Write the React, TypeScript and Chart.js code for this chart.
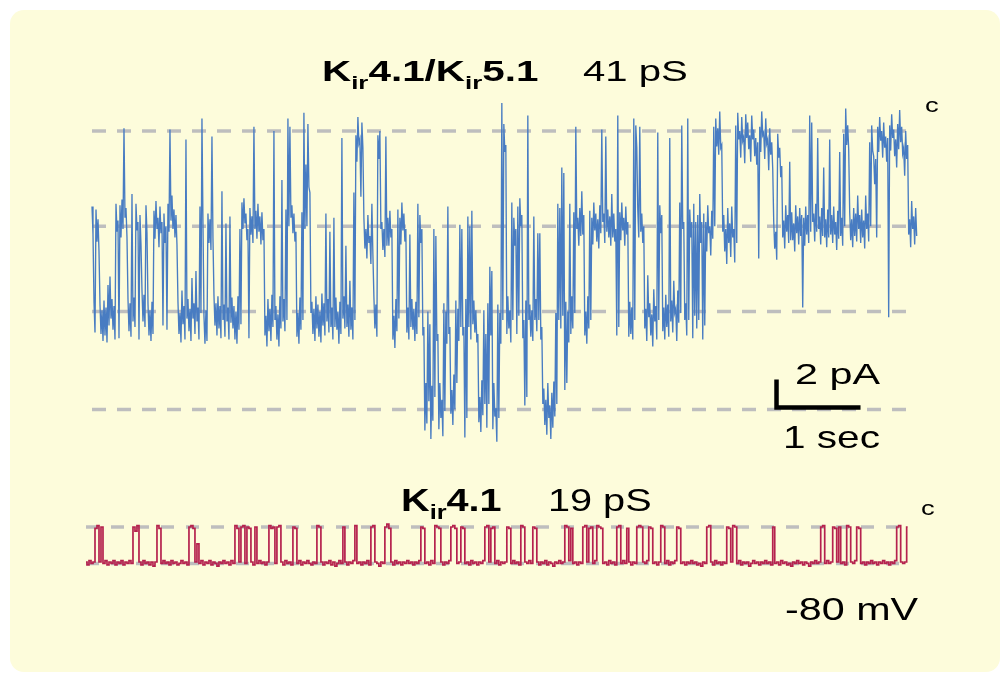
import React, { useEffect, useRef } from "react";
import { Chart, registerables } from "chart.js";

Chart.register(...registerables);

// ---------------- DATA ----------------
// width of one display bin of both recordings (s)
const SAMPLE_INTERVAL_S = 0.0238;

// Kir4.1/Kir5.1 heteromer (41 pS): per-bin maximum and minimum current (pA), 0 = closed, inward negative
const KIR45_MAX_PA = [
  -5.4, -12.2, -5.6, -6.3, -12.4, -12.8, -12.1, -12.6, -11.0, -10.4,
  -12.0, -12.5, -5.2, -6.4, -5.3, -4.9, 0.2, -5.5, -12.0, -12.3,
  -4.5, -11.9, -5.2, -6.5, -6.0, -11.4, -11.7, -5.3, -12.3, -12.8,
  -12.2, -5.7, -5.0, -6.2, -5.4, -6.5, -5.9, -6.8, -5.2, 0.1,
  -4.6, -5.6, -6.0, -12.2, -13.0, -11.4, -12.5, -0.6, -12.0, -12.7,
  -10.5, -12.3, -10.0, -12.6, -5.4, 0.9, -13.2, -12.8, -5.9, -6.3,
  -0.4, -11.7, -12.3, -11.8, -12.5, -4.3, -12.4, -6.6, -12.6, -6.1,
  -11.9, -12.5, -12.9, -11.8, -7.0, -5.1, -4.8, -5.9, -7.0, -5.5,
  -6.1, 0.3, -5.7, -5.2, -6.1, -5.8, -7.0, -13.2, -12.0, -12.7,
  -11.7, 0.0, -12.5, -13.1, -11.8, -3.5, -12.0, -5.6, 0.9, 0.3,
  -5.3, -5.9, -7.2, -13.0, -11.9, -5.8, 1.3, -2.4, 0.5, -4.4,
  -12.2, -12.7, -11.8, -12.4, -12.9, -11.6, -12.3, -5.9, -12.0, -7.2,
  -12.6, -6.2, -11.9, -12.9, -12.2, -0.5, -11.8, -8.2, -12.4, -10.7,
  -12.6, -4.4, -0.3, 1.0, -0.6, 0.6, -6.2, -7.0, -6.0, -7.5,
  -5.2, -11.8, -12.4, -0.3, 0.0, -6.5, -7.0, -0.4, -6.2, -5.7,
  -7.0, -13.2, -12.0, -5.6, -6.2, -5.1, -5.9, -7.0, -12.6, -7.4,
  -12.0, -12.7, -12.2, -5.2, -6.0, -7.0, -14.0, -18.0, -12.9, -13.8,
  -18.2, -7.0, -7.5, -14.5, -18.0, -19.2, -12.3, -12.9, -5.4, -14.0,
  -18.5, -17.4, -12.1, -12.7, -6.7, -7.0, -14.0, -12.0, -6.1, -6.8,
  -5.7, -12.1, -12.8, -14.5, -19.0, -17.8, -12.8, -14.5, -12.3, -9.7,
  -10.0, -18.0, -19.8, -12.4, -13.0, 2.0, 0.5, -1.0, -11.8, -12.8,
  -5.1, -6.2, -7.0, -5.4, -4.8, -6.0, -13.5, -12.1, 1.1, -12.4,
  -12.8, -6.1, -12.0, -7.3, -7.3, -14.0, -18.4, -19.2, -18.0, -19.6,
  -18.7, -17.9, -13.0, -5.2, -5.5, -2.6, -3.0, -12.2, -12.9, -5.2,
  -11.8, -5.8, 0.3, -6.2, -5.5, -4.3, -6.0, -12.9, -11.8, -5.7,
  -6.2, -5.1, -5.9, -6.3, -5.3, 0.1, -5.9, -0.4, -5.6, -6.1,
  -4.5, -5.9, -7.0, 1.1, -5.8, -5.1, -6.2, -5.4, -6.5, -12.2,
  -12.6, 0.9, 0.4, -5.6, 0.3, -5.9, -6.8, -12.7, -10.3, -12.3,
  -13.1, -11.3, -12.5, -0.1, -5.3, -6.0, -12.6, -11.7, -12.4, -0.5,
  -12.1, -10.7, -12.7, -11.4, -5.1, 0.4, -6.5, -12.3, 0.9, -5.6,
  -6.5, -5.2, -6.5, -6.0, -4.5, -6.5, -5.9, -6.5, -5.3, -6.8,
  -5.7, 0.3, 0.9, 0.2, 1.4, -1.0, -6.0, -7.0, -5.5, -6.6,
  -5.4, -7.0, 0.4, 1.3, 0.0, 1.0, -0.4, 1.2, 0.6, -0.3,
  1.1, 0.1, -0.5, -0.8, 0.3, 1.4, -0.1, 0.9, -0.6, 0.2,
  -0.8, -6.5, -7.2, -0.2, -1.2, -2.5, -6.4, -5.3, -6.0, -2.2,
  -5.8, -6.6, -5.3, -6.1, -5.5, -6.0, -6.2, -5.4, -6.0, 1.1,
  0.6, -5.9, -5.2, -0.5, -6.1, -5.5, -2.6, -6.3, -5.6, -0.6,
  -6.0, -5.4, -6.5, -5.7, -1.5, -6.2, -0.2, 1.6, 0.4, -5.8,
  -6.3, -5.5, -5.9, -4.6, -6.0, -5.6, -6.4, -4.6, -5.9, -0.8,
  0.4, -1.8, -2.0, 0.3, 1.0, 0.0, 0.6, -0.4, -0.5, 0.4,
  1.2, 0.1, -0.6, 0.5, 1.5, 0.3, -1.2, 0.0, -1.0, -6.3,
  -5.0, -6.1, -5.5,
];
const KIR45_MIN_PA = [
  -7.4, -14.4, -7.9, -8.6, -14.5, -15.0, -14.6, -15.1, -13.9, -13.4,
  -14.2, -14.9, -7.2, -14.8, -7.6, -7.0, -6.2, -7.6, -14.3, -14.7,
  -13.6, -14.0, -7.1, -14.9, -8.1, -13.6, -14.0, -7.3, -14.6, -15.0,
  -14.5, -7.7, -7.0, -8.3, -7.3, -13.9, -8.0, -14.2, -7.2, -6.4,
  -7.0, -7.6, -8.1, -14.5, -15.1, -13.8, -14.9, -13.4, -14.3, -15.0,
  -13.4, -14.5, -13.6, -14.9, -13.0, -6.5, -15.2, -15.0, -8.0, -8.5,
  -7.6, -13.9, -14.6, -14.1, -14.8, -13.5, -14.7, -13.6, -14.9, -13.7,
  -14.1, -14.9, -15.2, -14.2, -13.8, -7.0, -6.6, -7.8, -14.8, -7.4,
  -8.0, -7.0, -7.7, -7.2, -8.1, -7.8, -14.6, -15.4, -14.3, -15.0,
  -14.0, -13.5, -14.9, -15.4, -14.1, -13.6, -14.3, -13.5, -6.8, -6.2,
  -7.3, -7.9, -14.7, -15.2, -14.2, -13.5, -7.0, -6.8, -4.0, -13.0,
  -14.5, -15.0, -14.1, -14.7, -15.1, -13.9, -14.6, -13.6, -14.4, -14.0,
  -14.9, -14.0, -14.2, -15.2, -14.5, -13.4, -14.1, -14.0, -14.7, -14.2,
  -14.9, -13.5, -2.2, -0.9, -4.7, -1.2, -8.4, -9.1, -8.0, -9.5,
  -8.8, -14.1, -14.7, -2.0, -7.0, -8.5, -9.0, -8.2, -8.2, -7.6,
  -14.9, -15.5, -14.3, -13.4, -8.1, -7.1, -7.9, -14.4, -14.9, -14.0,
  -14.2, -15.0, -14.5, -13.3, -8.0, -14.6, -21.4, -20.9, -19.3, -22.0,
  -20.7, -19.0, -15.0, -21.3, -20.5, -21.8, -20.0, -15.2, -14.5, -20.2,
  -21.0, -19.9, -18.0, -15.0, -14.0, -14.6, -21.9, -20.5, -14.0, -14.9,
  -13.8, -14.4, -15.1, -20.8, -21.5, -20.3, -19.5, -21.2, -19.5, -14.6,
  -21.3, -20.4, -22.2, -20.5, -15.2, -13.5, -1.5, -14.5, -14.1, -15.1,
  -13.5, -8.2, -14.5, -13.2, -6.8, -14.8, -19.6, -19.0, -13.5, -14.7,
  -15.0, -13.5, -14.3, -13.5, -14.9, -19.5, -21.0, -21.7, -20.5, -22.0,
  -21.2, -20.4, -19.5, -13.5, -14.1, -13.2, -18.5, -18.0, -15.1, -14.5,
  -14.1, -13.0, -7.0, -8.2, -7.5, -7.4, -14.6, -15.2, -14.1, -13.5,
  -8.1, -7.1, -7.9, -8.4, -7.3, -6.5, -8.0, -7.2, -7.6, -8.2,
  -7.6, -7.9, -14.6, -14.0, -7.8, -7.1, -8.2, -7.4, -14.7, -14.5,
  -14.9, -13.5, -1.2, -7.6, -7.2, -8.0, -14.1, -15.0, -13.3, -14.6,
  -15.4, -13.6, -14.9, -13.5, -7.3, -14.3, -14.9, -14.0, -14.7, -13.6,
  -14.4, -13.0, -15.0, -13.7, -13.0, -7.0, -13.5, -14.6, -13.5, -7.6,
  -14.8, -13.2, -14.1, -13.5, -8.0, -14.9, -13.9, -8.6, -7.3, -8.9,
  -7.7, -6.8, -1.1, -1.7, -1.2, -7.2, -8.6, -9.5, -8.0, -9.0,
  -7.6, -9.4, -8.0, -0.6, -1.9, -0.7, -2.3, -0.5, -1.3, -2.2,
  -0.6, -1.8, -2.4, -9.1, -1.5, -0.3, -2.0, -0.9, -2.8, -1.7,
  -2.7, -8.4, -9.2, -1.9, -3.3, -7.6, -8.4, -7.2, -8.0, -7.8,
  -7.8, -8.6, -7.3, -8.1, -7.5, -12.6, -8.2, -7.4, -8.0, -7.2,
  -6.5, -7.9, -7.2, -7.0, -8.1, -7.5, -7.6, -8.3, -7.6, -7.4,
  -8.0, -7.4, -8.5, -7.7, -7.5, -8.2, -6.8, -1.0, -1.3, -7.8,
  -8.3, -7.5, -7.9, -7.0, -8.0, -7.6, -8.4, -7.0, -7.9, -6.8,
  -1.4, -3.8, -7.6, -1.5, -0.7, -1.9, -1.2, -2.2, -13.3, -1.4,
  -0.5, -1.8, -2.6, -1.3, -0.8, -1.6, -3.2, -2.0, -7.4, -8.3,
  -7.0, -8.1, -7.5,
];

// Kir4.1 homomer (19 pS), current in pA (0 = closed)
const KIR41_CURRENT_PA = [
  -2.5, -2.7, -2.4, -2.6, -2.5, -0.1, 0.1, -2.5, 0.0, -2.6, -2.4, -2.7, -2.5, -2.6, -2.4, -2.7, -2.5, -2.6, -2.4, -2.7,
  -2.5, -2.6, -2.4, -2.6, 0.0, -0.3, 0.1, -2.5, -2.7, -2.4, -2.6, -2.5, -2.7, -2.5, -2.8, -2.5, 0.1, -0.1, -2.6, -2.4,
  -2.6, -2.5, -2.7, -2.4, -2.6, -2.5, -2.7, -2.6, -2.4, -2.6, -2.5, -2.7, 0.0, 0.1, -0.1, -2.5, -1.2, -2.6, -2.4, -2.7,
  -2.5, -2.6, -2.4, -2.7, -2.5, -2.6, -2.8, -2.5, -2.6, -2.4, -2.6, -2.5, -2.7, -2.4, -2.6, 0.1, -0.1, -2.5, 0.0, 0.1,
  -2.6, 0.0, -0.1, -2.5, -2.7, 0.0, -2.6, -2.4, -2.6, -2.5, -2.7, -2.5, 0.1, -0.1, 0.0, -2.6, 0.0, 0.1, -2.5, -2.7,
  -2.4, -2.6, -2.5, -2.7, 0.0, -0.1, -2.6, -2.4, -2.7, -2.5, -2.6, -2.4, -2.6, -2.7, -2.5, -2.6, 0.1, 0.0, -2.5, -2.7,
  -2.5, -2.6, -2.4, -2.7, -2.5, -2.8, -2.6, -2.4, -2.6, 0.0, -2.5, -2.7, -2.5, -2.6, -2.4, 0.1, -2.6, -2.5, -2.7, -2.5,
  -2.6, -2.4, -2.7, 0.0, 0.1, -2.5, -2.6, -2.8, -2.5, -2.6, 0.0, 0.2, -0.1, -2.5, -2.7, -2.4, -2.6, -2.5, -2.7, -2.5,
  -2.6, -2.4, -2.6, -2.5, -2.7, -2.5, -2.6, -2.4, 0.0, -0.1, -2.6, -2.5, -2.7, -2.4, -2.6, 0.1, 0.0, -0.1, -2.5, -2.7,
  -2.5, -2.6, -2.4, 0.0, 0.1, -0.1, -2.6, -2.5, 0.0, -0.1, -2.6, -2.5, -2.7, -2.4, -2.6, -2.5, -2.7, -2.5, -2.6, -2.4,
  0.0, 0.1, -2.5, -0.1, 0.0, -2.6, -2.4, -2.7, -2.5, -2.6, -2.5, 0.0, -0.1, -2.6, -2.4, -2.6, -2.5, -2.7, 0.1, 0.0,
  -2.5, -2.6, -2.4, -2.6, 0.0, -0.1, -2.5, -2.7, -2.5, -2.6, -2.4, -2.7, -2.5, -2.6, -2.8, -2.5, -2.6, -2.4, -2.6, -2.5,
  0.1, 0.0, -2.4, -0.1, -2.6, -2.5, -2.7, -2.5, -2.6, 0.0, 0.1, -2.5, -0.1, 0.0, -2.6, -2.4, 0.1, 0.0, -0.1, -2.6,
  -2.5, -2.7, -2.4, -2.6, -2.5, -2.7, 0.0, 0.1, -2.6, -2.4, -2.6, -0.1, -2.5, -2.7, -2.5, -2.6, 0.0, 0.1, 0.0, -2.5,
  -2.6, -2.4, 0.0, -0.1, -2.6, -2.5, -2.7, -2.5, 0.1, 0.0, -2.6, -2.4, -2.7, -2.5, -2.6, -2.4, 0.0, -0.1, -2.6, -2.5,
  -2.7, -2.5, -2.6, -2.4, -2.6, -2.5, -2.7, -2.6, -2.8, -2.5, -2.6, 0.0, 0.1, -2.5, -2.7, -2.4, -2.6, -2.5, -2.7, -2.5,
  -2.6, 0.0, -0.1, -2.5, 0.1, 0.0, -2.6, -2.4, -2.7, -2.5, -2.6, -2.5, -2.8, -2.6, -2.4, -2.6, -2.5, -2.7, -2.5, -2.6,
  -2.4, -2.6, -2.5, -2.7, 0.0, -2.6, -2.5, -2.7, -2.4, -2.6, -2.5, -2.7, -2.6, -2.8, -2.5, -2.6, -2.4, -2.6, -2.5, -2.7,
  -2.5, -2.6, -2.8, -2.5, -2.6, -2.4, -2.6, -2.5, 0.0, 0.1, -2.6, -2.4, -2.6, -2.5, 0.0, -0.1, -2.5, 0.0, -2.6, -2.5,
  -2.7, 0.1, 0.0, -2.5, -2.6, -2.4, 0.0, -0.1, -2.6, -2.5, -2.7, -2.5, -2.6, -2.4, -2.6, -2.5, -2.7, -2.5, -2.6, -2.4,
  -2.6, -2.5, -2.7, -2.5, -2.6, -2.4, 0.0, 0.1, -2.5, -2.6, -2.5, 0.0,
];

// conductance levels marked by dashed lines (pA): closed, 1, 2, 3 channels open
const KIR45_LEVELS_PA = [0, -6.8, -12.9, -19.9];
const KIR41_LEVELS_PA = [0, -2.6];

// scale bar
const SCALE_BAR_PA = 2;
const SCALE_BAR_S = 1;

// text
const KIR45_TITLE = [
  { text: "K", bold: true },
  { text: "ir", bold: true, sub: true },
  { text: "4.1/K", bold: true },
  { text: "ir", bold: true, sub: true },
  { text: "5.1", bold: true },
];
const KIR45_CONDUCTANCE = "41 pS";
const KIR41_TITLE = [
  { text: "K", bold: true },
  { text: "ir", bold: true, sub: true },
  { text: "4.1", bold: true },
];
const KIR41_CONDUCTANCE = "19 pS";
const CLOSED_LABEL = "c";
const SCALE_Y_LABEL = "2 pA";
const SCALE_X_LABEL = "1 sec";
const VOLTAGE_LABEL = "-80 mV";

// ---------------- LAYOUT / STYLE ----------------
const W = 1002;
const H = 675;
const PX_PER_S = 84;
const PX_PER_PA = 14;
const TOP_X0 = 92; // px of t=0, top trace
const BOT_X0 = 86; // px of t=0, bottom trace
const TOP_Y0 = 131; // px of 0 pA, top trace
const BOT_Y0 = 527; // px of 0 pA, bottom trace

const BLUE = "rgb(72,124,194)";
const RED = "rgb(181,34,78)";
const DASH = "rgb(190,190,190)";
const BG = "rgb(253,252,219)";
const FONT = '"Liberation Sans", Arial, Helvetica, sans-serif';

type Run = { text: string; bold?: boolean; sub?: boolean };
type Label = { runs: Run[]; x: number; y: number; size: number; sx: number };

const LABELS: Label[] = [
  { runs: KIR45_TITLE, x: 322, y: 81, size: 29.5, sx: 1.37 },
  { runs: [{ text: KIR45_CONDUCTANCE }], x: 583, y: 81, size: 29.5, sx: 1.36 },
  { runs: [{ text: CLOSED_LABEL }], x: 925, y: 112, size: 21, sx: 1.3 },
  { runs: [{ text: SCALE_Y_LABEL }], x: 795, y: 384, size: 29.5, sx: 1.4 },
  { runs: [{ text: SCALE_X_LABEL }], x: 783, y: 448, size: 30.5, sx: 1.33 },
  { runs: KIR41_TITLE, x: 401, y: 511, size: 30.5, sx: 1.3 },
  { runs: [{ text: KIR41_CONDUCTANCE }], x: 548, y: 511, size: 30.5, sx: 1.3 },
  { runs: [{ text: CLOSED_LABEL }], x: 921, y: 515, size: 21, sx: 1.3 },
  { runs: [{ text: VOLTAGE_LABEL }], x: 785, y: 620, size: 32, sx: 1.29 },
];

function drawLabel(ctx: CanvasRenderingContext2D, l: Label) {
  ctx.save();
  ctx.translate(l.x, l.y);
  ctx.scale(l.sx, 1);
  ctx.fillStyle = "#000";
  ctx.textBaseline = "alphabetic";
  ctx.textAlign = "left";
  let x = 0;
  for (const r of l.runs) {
    const size = r.sub ? l.size * 0.64 : l.size;
    ctx.font = `${r.bold ? "bold " : ""}${size}px ${FONT}`;
    const dy = r.sub ? l.size * 0.26 : 0;
    ctx.fillText(r.text, x, dy);
    x += ctx.measureText(r.text).width;
  }
  ctx.restore();
}

const figurePlugin = {
  id: "figureDecor",
  beforeDraw(chart: any) {
    const ctx: CanvasRenderingContext2D = chart.ctx;
    ctx.save();
    ctx.fillStyle = BG;
    ctx.beginPath();
    const x = 10, y = 10, w = 990, h = 662, r = 14;
    ctx.moveTo(x + r, y);
    ctx.arcTo(x + w, y, x + w, y + h, r);
    ctx.arcTo(x + w, y + h, x, y + h, r);
    ctx.arcTo(x, y + h, x, y, r);
    ctx.arcTo(x, y, x + w, y, r);
    ctx.closePath();
    ctx.fill();
    ctx.restore();
  },
  afterDraw(chart: any) {
    const ctx: CanvasRenderingContext2D = chart.ctx;
    for (const l of LABELS) drawLabel(ctx, l);
  },
};

export default function App() {
  const ref = useRef<HTMLCanvasElement | null>(null);

  useEffect(() => {
    if (!ref.current) return;
    const dt = SAMPLE_INTERVAL_S;
    // min/max display: each bin drawn as a stroke from its maximum to its minimum
    const topPts: { x: number; y: number }[] = [];
    KIR45_MAX_PA.forEach((hi, i) => {
      topPts.push({ x: i * dt, y: hi });
      topPts.push({ x: i * dt + dt / 2, y: KIR45_MIN_PA[i] });
    });
    const botPts = KIR41_CURRENT_PA.map((v, i) => ({ x: i * dt, y: v }));
    const topEnd = (KIR45_MAX_PA.length - 0.5) * dt;
    const botEnd = (KIR41_CURRENT_PA.length - 1) * dt;

    const levelLine = (lvl: number, end: number, bottom: boolean) => ({
      data: [
        { x: 0, y: lvl },
        { x: end, y: lvl },
      ],
      xAxisID: bottom ? "x2" : "x",
      yAxisID: bottom ? "y2" : "y",
      borderColor: DASH,
      borderWidth: 3.5,
      borderDash: bottom ? [13, 12] : [14, 11],
      borderCapStyle: "butt",
      pointRadius: 0,
      order: 3,
    });

    // scale bar anchored at its corner
    const sbT = 8.149;
    const sbI = -19.75;

    const chart = new Chart(ref.current, {
      type: "line",
      data: {
        datasets: [
          ...KIR45_LEVELS_PA.map((l) => levelLine(l, topEnd, false)),
          ...KIR41_LEVELS_PA.map((l) => levelLine(l, botEnd, true)),
          {
            data: topPts,
            xAxisID: "x",
            yAxisID: "y",
            borderColor: BLUE,
            borderWidth: 1.35,
            pointRadius: 0,
            tension: 0,
            order: 2,
          },
          {
            data: botPts,
            xAxisID: "x2",
            yAxisID: "y2",
            borderColor: RED,
            borderWidth: 1.7,
            pointRadius: 0,
            tension: 0,
            stepped: "middle",
            order: 2,
          },
          {
            data: [
              { x: sbT, y: sbI + SCALE_BAR_PA },
              { x: sbT, y: sbI },
              { x: sbT + SCALE_BAR_S, y: sbI },
            ],
            xAxisID: "x",
            yAxisID: "y",
            borderColor: "#000",
            borderWidth: 4.5,
            borderJoinStyle: "miter",
            borderCapStyle: "butt",
            pointRadius: 0,
            order: 1,
          },
        ] as any,
      },
      options: {
        animation: false,
        responsive: false,
        maintainAspectRatio: false,
        devicePixelRatio: 1,
        events: [],
        layout: { padding: 0 },
        plugins: {
          legend: { display: false },
          tooltip: { enabled: false },
          title: { display: false },
        },
        scales: {
          x: { type: "linear", display: false, min: -TOP_X0 / PX_PER_S, max: (W - TOP_X0) / PX_PER_S },
          x2: { type: "linear", display: false, min: -BOT_X0 / PX_PER_S, max: (W - BOT_X0) / PX_PER_S },
          y: { type: "linear", display: false, min: -(H - TOP_Y0) / PX_PER_PA, max: TOP_Y0 / PX_PER_PA },
          y2: { type: "linear", display: false, min: -(H - BOT_Y0) / PX_PER_PA, max: BOT_Y0 / PX_PER_PA },
        },
      } as any,
      plugins: [figurePlugin],
    });
    return () => chart.destroy();
  }, []);

  return (
    <div style={{ position: "fixed", left: 0, top: 0, width: W, height: H, background: "#fff" }}>
      <canvas ref={ref} width={W} height={H} style={{ display: "block", width: W, height: H }} />
    </div>
  );
}
